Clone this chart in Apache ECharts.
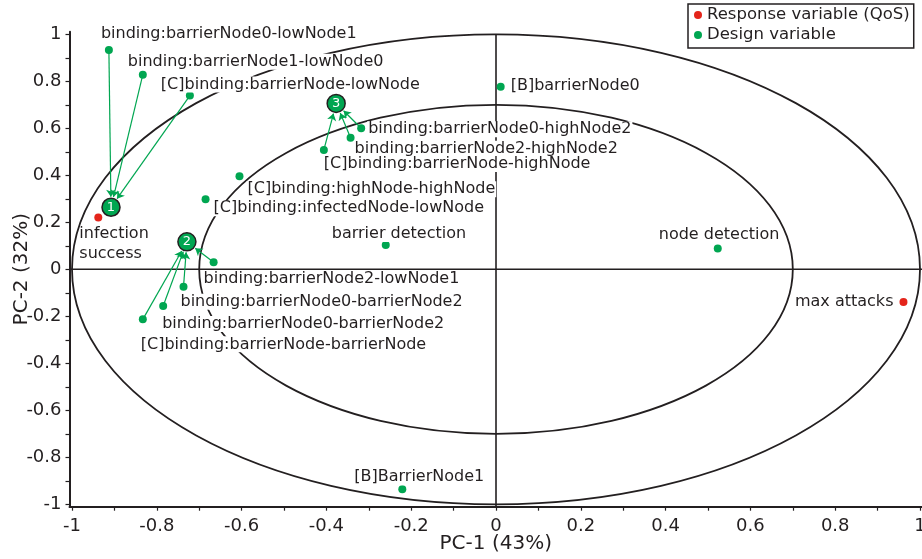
<!DOCTYPE html>
<html><head><meta charset="utf-8">
<script src="https://cdn.jsdelivr.net/npm/echarts@6/dist/echarts.min.js"></script>
<style>html,body{margin:0;padding:0;background:#fff}#c{width:922px;height:559px}</style>
</head><body><div id="c"></div>
<script>
// ---------- data ----------
const designNames = [
  'binding:barrierNode0-lowNode1',
  'binding:barrierNode1-lowNode0',
  '[C]binding:barrierNode-lowNode',
  'binding:barrierNode0-highNode2',
  'binding:barrierNode2-highNode2',
  '[C]binding:barrierNode-highNode',
  '[C]binding:highNode-highNode',
  '[C]binding:infectedNode-lowNode',
  'binding:barrierNode2-lowNode1',
  'binding:barrierNode0-barrierNode2',
  'binding:barrierNode0-barrierNode2',
  '[C]binding:barrierNode-barrierNode',
  'barrier detection',
  'node detection',
  '[B]barrierNode0',
  '[B]BarrierNode1'
];
const designPC1 = [-0.913, -0.833, -0.722, -0.318, -0.343, -0.406, -0.605, -0.685, -0.666, -0.737, -0.785, -0.833, -0.260, 0.523, 0.011, -0.221];
const designPC2 = [0.933, 0.828, 0.739, 0.600, 0.560, 0.508, 0.396, 0.298, 0.030, -0.074, -0.156, -0.213, 0.103, 0.088, 0.777, -0.936];
const designGroup = [1, 1, 1, 3, 3, 3, 0, 0, 2, 2, 2, 2, 0, 0, 0, 0];

const responseNames = ['infection\nsuccess', 'max attacks'];
const responsePC1 = [-0.938, 0.961];
const responsePC2 = [0.220, -0.139];

const groupIds = ['1', '2', '3'];
const groupPC1 = [-0.908, -0.729, -0.377];
const groupPC2 = [0.264, 0.117, 0.706];

const tickValues = [-1, -0.9, -0.8, -0.7, -0.6, -0.5, -0.4, -0.3, -0.2, -0.1, 0, 0.1, 0.2, 0.3, 0.4, 0.5, 0.6, 0.7, 0.8, 0.9, 1];
const tickLabels = [-1, -0.8, -0.6, -0.4, -0.2, 0, 0.2, 0.4, 0.6, 0.8, 1];
const circleRadii = [1, 0.7];

// ---------- layout / style ----------
const designLabelOffset = [
  [-9, -16], [-16, -13], [-30, -11], [6, 1], [3, 11], [-1, 14], [7, 13], [7, 9],
  [-11, 17], [-4, 15], [-2, 18], [-3, 25], [-55, -11], [-60, -14], [9, -1], [-49, -12]
];
const responseLabelLayout = [
  { offset: [-20, 26], align: 'left' },
  { offset: [-9, 0], align: 'right' }
];
const FONT = 'DejaVu Sans';
const INK = '#231f20';
const GREEN = '#00a651';
const RED = '#e4251b';

const fmt = v => String(Math.round(v * 10) / 10);

const chart = echarts.init(document.getElementById('c'), null, { renderer: 'canvas' });

function axis(isX) {
  return {
    type: 'value',
    min: isX ? -1.0059 : -1.0102,
    max: isX ? 1.0047 : 1.011,
    name: isX ? 'PC-1 (43%)' : 'PC-2 (32%)',
    nameLocation: 'middle',
    nameGap: isX ? 27 : 38,
    nameMoveOverlap: false,
    nameTextStyle: { fontFamily: FONT, fontSize: 20, color: INK },
    axisLine: { onZero: false, lineStyle: { color: INK, width: 2 } },
    axisTick: { customValues: tickValues, length: 4, lineStyle: { color: INK, width: 1.2 } },
    axisLabel: { customValues: tickLabels, margin: isX ? 11 : 8, fontFamily: FONT, fontSize: 18, color: INK, formatter: fmt },
    splitLine: { show: false }
  };
}

const labelBase = {
  show: true, formatter: '{b}', position: 'inside', verticalAlign: 'middle',
  fontFamily: FONT, fontSize: 16, color: INK, opacity: 1, backgroundColor: '#fff', padding: [0, 1]
};

const option = {
  animation: false,
  backgroundColor: '#fff',
  grid: { left: 69.5, right: 0, top: 31.7, bottom: 52.3, containLabel: false, outerBoundsMode: 'none' },
  xAxis: axis(true),
  yAxis: axis(false),
  legend: {
    left: 688, top: 4, orient: 'vertical',
    data: ['Response variable (QoS)', 'Design variable'],
    icon: 'circle', itemWidth: 8, itemHeight: 8, itemGap: 2,
    padding: [2, 4, 4, 6],
    borderColor: INK, borderWidth: 1.5, backgroundColor: '#fff',
    textStyle: { fontFamily: FONT, fontSize: 16.5, color: INK, lineHeight: 18 }
  },
  series: [
    {
      id: 'design', name: 'Design variable', type: 'scatter', symbolSize: 8, z: 2,
      itemStyle: { color: GREEN, opacity: 1 },
      label: labelBase,
      data: designNames.map((n, i) => ({
        name: n, value: [designPC1[i], designPC2[i]],
        label: { align: 'left', offset: designLabelOffset[i] }
      }))
    },
    {
      id: 'response', name: 'Response variable (QoS)', type: 'scatter', symbolSize: 8, z: 2,
      itemStyle: { color: RED, opacity: 1 },
      label: Object.assign({}, labelBase, { lineHeight: 20, backgroundColor: 'transparent' }),
      data: responseNames.map((n, i) => ({
        name: n, value: [responsePC1[i], responsePC2[i]],
        label: { align: responseLabelLayout[i].align, offset: responseLabelLayout[i].offset }
      }))
    },
    {
      id: 'groups', name: 'groups', type: 'scatter', symbolSize: 18, z: 5,
      itemStyle: { color: GREEN, borderColor: INK, borderWidth: 1.5, opacity: 1 },
      label: { show: true, formatter: '{b}', position: 'inside', color: '#fff', opacity: 1, fontFamily: FONT, fontSize: 13 },
      data: groupIds.map((n, i) => ({ name: n, value: [groupPC1[i], groupPC2[i]] }))
    }
  ]
};
chart.setOption(option);

// ---------- derived marks through the axes' scales ----------
const px = v => chart.convertToPixel({ gridIndex: 0 }, v);
const fromPx = p => chart.convertFromPixel({ gridIndex: 0 }, p);
const o = px([0, 0]);
const graphics = circleRadii.map(r => {
  const ex = px([r, 0]), ey = px([0, r]);
  return {
    type: 'ellipse', z: 1, silent: true,
    shape: { cx: o[0], cy: o[1], rx: ex[0] - o[0], ry: o[1] - ey[1] },
    style: { fill: 'none', stroke: INK, lineWidth: 1.8 }
  };
});
const hL = px([option.xAxis.min, 0]), hR = px([option.xAxis.max, 0]);
const vT = px([0, 1]), vB = px([0, option.yAxis.min]);
graphics.push({ type: 'line', z: 1, silent: true, shape: { x1: hL[0], y1: hL[1], x2: hR[0], y2: hR[1] }, style: { stroke: INK, lineWidth: 1.6 } });
graphics.push({ type: 'line', z: 1, silent: true, shape: { x1: vT[0], y1: vT[1], x2: vB[0], y2: vB[1] }, style: { stroke: INK, lineWidth: 1.6 } });

const arrows = [];
designGroup.forEach((g, i) => {
  if (!g) return;
  const p = px([designPC1[i], designPC2[i]]);
  const c = px([groupPC1[g - 1], groupPC2[g - 1]]);
  const dx = c[0] - p[0], dy = c[1] - p[1];
  const L = Math.hypot(dx, dy);
  const e = [c[0] - dx / L * 10.5, c[1] - dy / L * 10.5];
  arrows.push({ coords: [[designPC1[i], designPC2[i]], fromPx(e)] });
});

chart.setOption({
  graphic: graphics,
  series: [
    {
      id: 'arrows', name: 'arrows', type: 'lines', coordinateSystem: 'cartesian2d', z: 3,
      symbol: ['none', 'arrow'], symbolSize: [0, 7],
      lineStyle: { color: GREEN, width: 1.2, opacity: 1 },
      data: arrows
    }
  ]
});
</script>
</body></html>
